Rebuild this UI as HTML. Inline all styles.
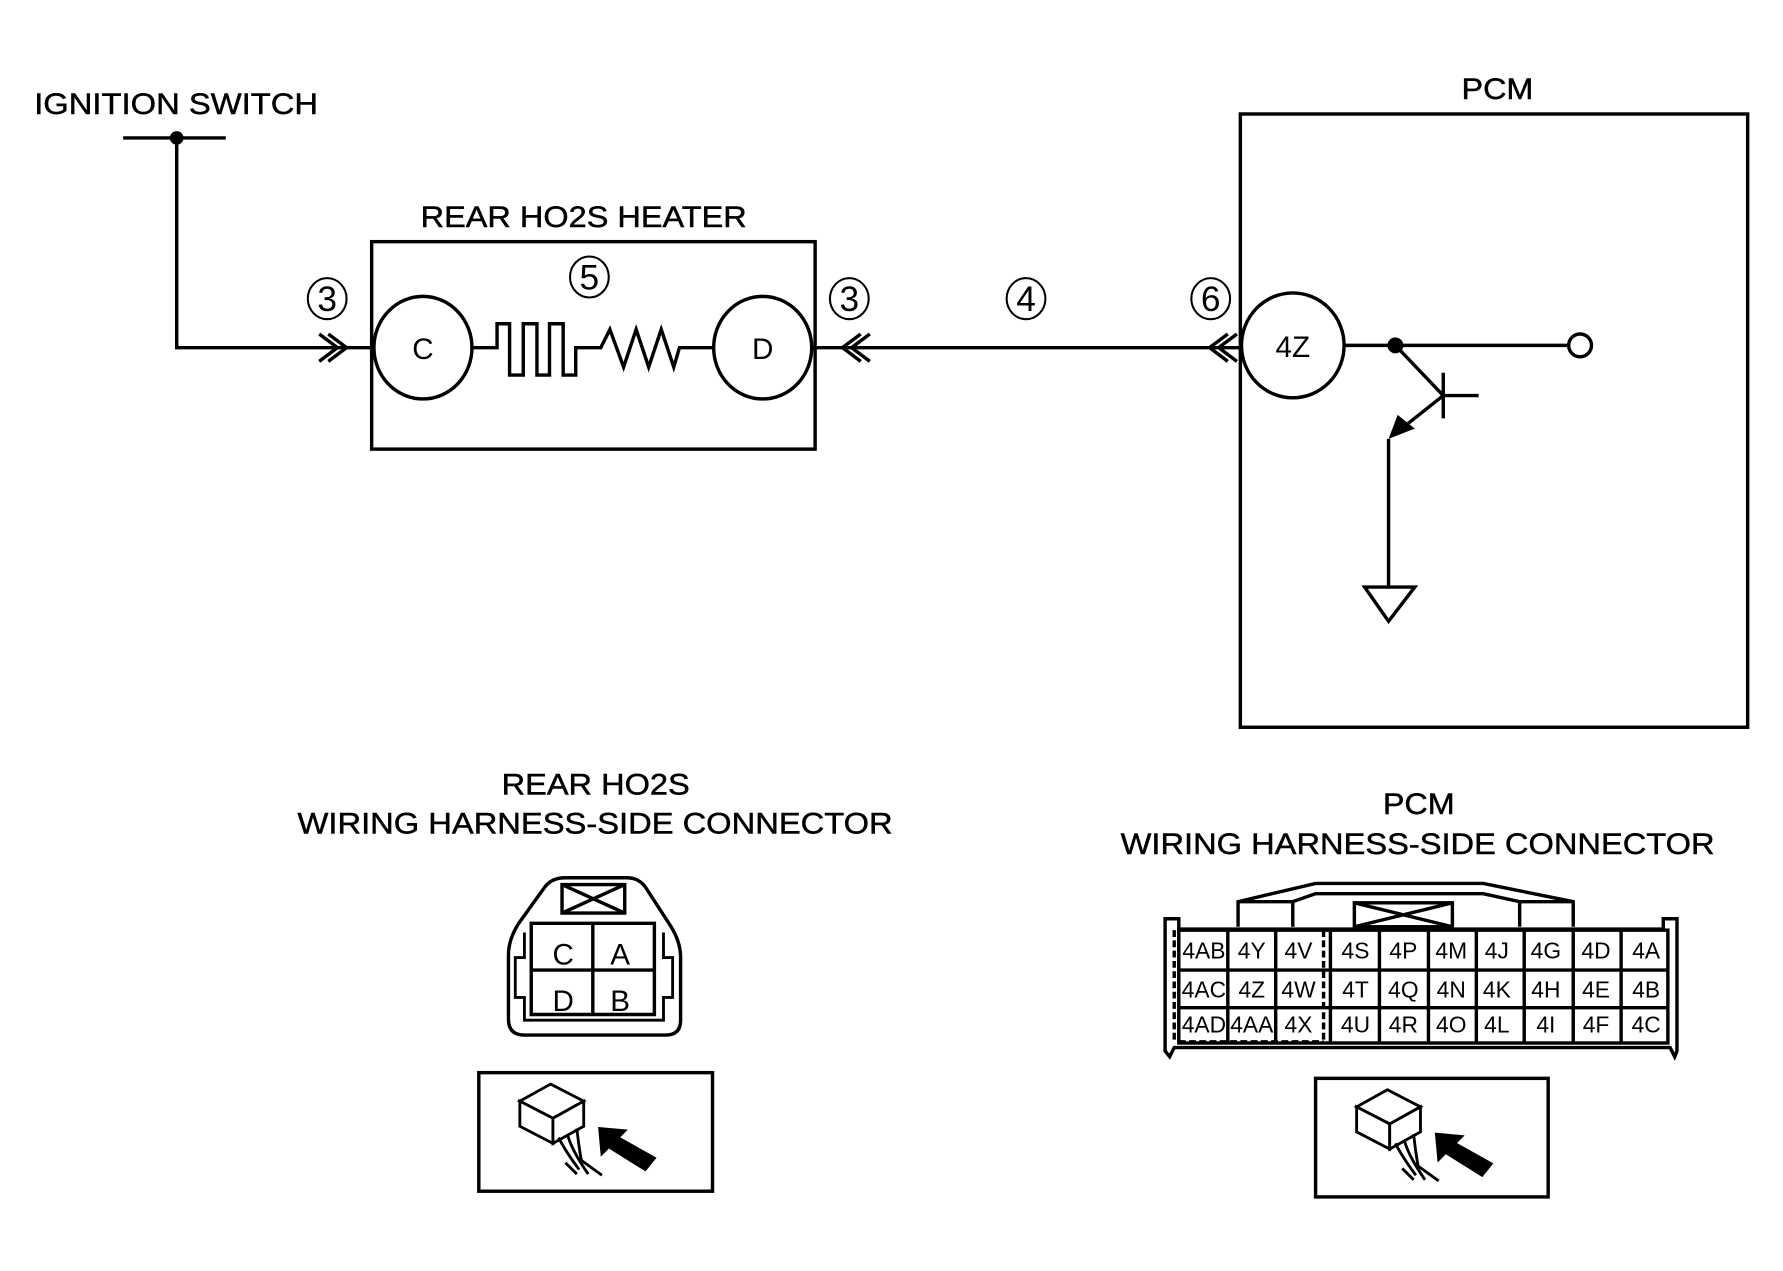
<!DOCTYPE html>
<html><head><meta charset="utf-8"><style>
html,body{margin:0;padding:0;background:#fff;}
svg{display:block;}
text{font-family:"Liberation Sans",Arial,sans-serif;fill:#000;}
</style></head><body>
<svg width="1783" height="1271" viewBox="0 0 1564 1115" preserveAspectRatio="none" xmlns="http://www.w3.org/2000/svg">
<g fill="none" stroke="#000" stroke-width="3" stroke-linejoin="miter">
<line x1="108" y1="121" x2="198" y2="121"/>
<polyline points="155,121 155,305 327,305"/>
<polyline points="280,293 296,305 280,317" />
<polyline points="288,293 304,305 288,317" />
<rect x="326" y="212" width="389" height="182"/>
<ellipse cx="371" cy="305" rx="43" ry="45"/>
<ellipse cx="669" cy="305" rx="43" ry="45"/>
<polyline points="414,305 436,305 436,284 447,284 447,329 459,329 459,284 471,284 471,329 482,329 482,284 494,284 494,329 505,329 505,305 527,305 535,289 547,322 558,289 569,322 580,289 591,322 596,305 626,305"/>
<line x1="712" y1="305" x2="1088" y2="305"/>
<polyline points="763,293 747,305 763,317"/>
<polyline points="755,293 739,305 755,317"/>
<polyline points="1077,293 1061,305 1077,317"/>
<polyline points="1085,293 1069,305 1085,317"/>
<rect x="1088" y="100" width="445" height="538"/>
<ellipse cx="1134" cy="303" rx="45" ry="46"/>
<line x1="1179" y1="303" x2="1376" y2="303"/>
<circle cx="1386" cy="303" r="10"/>
<line x1="1224" y1="303" x2="1266" y2="347"/>
<line x1="1266" y1="327" x2="1266" y2="367"/>
<line x1="1266" y1="347" x2="1297" y2="347"/>
<line x1="1266" y1="347" x2="1232" y2="374"/>
<polyline points="1218,385 1218,515"/>
<polygon points="1197,515 1241,515 1218,545"/>
<path d="M496,770 L550,770 Q560,770 566,778 L588,812 Q597,826 597,840 L597,895 Q597,908 584,908 L460,908 Q446,908 446,894 L446,838 Q446,824 455,810 L478,778 Q484,770 496,770 Z"/>
<path d="M466,810 L574,810 L574,890 L466,890 Z"/>
<path d="M460,818 L460,840 L452,840 L452,875 L460,875 L460,895 L582,895 L582,875 L590,875 L590,840 L582,840 L582,818" stroke-width="2.5"/>
<line x1="520" y1="810" x2="520" y2="890"/>
<line x1="466" y1="851" x2="574" y2="851"/>
<rect x="493" y="776" width="55" height="25"/>
<line x1="493" y1="776" x2="548" y2="801"/>
<line x1="548" y1="776" x2="493" y2="801"/>
<rect x="420" y="941" width="205" height="104"/>
<rect x="1154" y="946" width="204" height="104"/>
<path d="M1022,922 L1022,806 L1034,806 L1034,815 L1459,815 L1459,806 L1471,806 L1471,922 L1469,927 L1465,919 L1030,919 L1026,927 Z"/>
<polyline points="1086,813 1086,791 1154,775 1301,775 1380,791 1380,813"/>
<polyline points="1086,791 1134,791 1154,784 1301,784 1333,791 1380,791"/>
<line x1="1134" y1="791" x2="1134" y2="813"/>
<line x1="1333" y1="791" x2="1333" y2="813"/>
<rect x="1188" y="792" width="86" height="21"/>
<line x1="1188" y1="792" x2="1274" y2="813"/>
<line x1="1274" y1="792" x2="1188" y2="813"/>
<rect x="1034" y="816" width="429" height="99"/>
<line x1="1034" y1="851" x2="1463" y2="851"/>
<line x1="1034" y1="884" x2="1463" y2="884"/>
<line x1="1077" y1="816" x2="1077" y2="915"/>
<line x1="1119" y1="816" x2="1119" y2="915"/>
<line x1="1167" y1="816" x2="1167" y2="915"/>
<line x1="1210" y1="816" x2="1210" y2="915"/>
<line x1="1253" y1="816" x2="1253" y2="915"/>
<line x1="1295" y1="816" x2="1295" y2="915"/>
<line x1="1337" y1="816" x2="1337" y2="915"/>
<line x1="1380" y1="816" x2="1380" y2="915"/>
<line x1="1422" y1="816" x2="1422" y2="915"/>
<line x1="1161" y1="816" x2="1161" y2="915" stroke-dasharray="6,3"/>
<line x1="1030" y1="816" x2="1030" y2="915" stroke-dasharray="6,3"/>
<line x1="1034" y1="914" x2="1161" y2="914" stroke-dasharray="6,3"/>
</g>
<g stroke="#000" stroke-width="2.5" fill="none">
<g transform="translate(456,948)">
<polygon points="0,18 27,3 56,18 29,33" fill="#fff"/>
<polygon points="0,18 29,33 29,55 0,40" fill="#fff"/>
<polygon points="29,33 56,18 56,40 29,55" fill="#fff"/>
<path d="M34,50 Q40,62 52,78 M42,48 Q46,62 60,82 M50,42 Q52,60 54,70 L72,83 M40,72 L50,82"/>
<polygon points="70,42 92,44 86,50 118,68 110,78 78,58 72,64" fill="#000"/>
</g>
<g transform="translate(1190,953)">
<polygon points="0,18 27,3 56,18 29,33" fill="#fff"/>
<polygon points="0,18 29,33 29,55 0,40" fill="#fff"/>
<polygon points="29,33 56,18 56,40 29,55" fill="#fff"/>
<path d="M34,50 Q40,62 52,78 M42,48 Q46,62 60,82 M50,42 Q52,60 54,70 L72,83 M40,72 L50,82"/>
<polygon points="70,42 92,44 86,50 118,68 110,78 78,58 72,64" fill="#000"/>
</g>
</g>
<circle cx="155" cy="121" r="6" fill="#000"/>
<circle cx="1224" cy="303" r="7" fill="#000"/>
<polygon points="1218,385 1226,364 1241,376" fill="#000"/>
<g fill="none" stroke="#000" stroke-width="1.8">
<ellipse cx="287" cy="262" rx="17" ry="18"/>
<ellipse cx="517" cy="243" rx="17" ry="18"/>
<ellipse cx="745" cy="262" rx="17" ry="18"/>
<ellipse cx="900" cy="262" rx="17" ry="18"/>
<ellipse cx="1062" cy="262" rx="17" ry="18"/>
</g>
<g font-size="31" text-anchor="middle">
<text x="287" y="273">3</text>
<text x="517" y="254">5</text>
<text x="745" y="273">3</text>
<text x="900" y="273">4</text>
<text x="1062" y="273">6</text>
</g>
<g font-size="26" stroke="#000" stroke-width="0.4">
<text x="30" y="100" textLength="249" lengthAdjust="spacingAndGlyphs">IGNITION SWITCH</text>
<text x="369" y="199" textLength="286" lengthAdjust="spacingAndGlyphs">REAR HO2S HEATER</text>
<text x="1282" y="87" textLength="63" lengthAdjust="spacingAndGlyphs">PCM</text>
<text x="440" y="697" textLength="165" lengthAdjust="spacingAndGlyphs">REAR HO2S</text>
<text x="261" y="731" textLength="522" lengthAdjust="spacingAndGlyphs">WIRING HARNESS-SIDE CONNECTOR</text>
<text x="1213" y="714" textLength="63" lengthAdjust="spacingAndGlyphs">PCM</text>
<text x="983" y="749" textLength="521" lengthAdjust="spacingAndGlyphs">WIRING HARNESS-SIDE CONNECTOR</text>
</g>
<g font-size="26" text-anchor="middle">
<text x="371" y="315">C</text>
<text x="669" y="315">D</text>
<text x="1134" y="313">4Z</text>
<text x="494" y="846">C</text>
<text x="544" y="846">A</text>
<text x="494" y="887">D</text>
<text x="544" y="887">B</text>
</g>
<g font-size="20" text-anchor="middle">
<text x="1056" y="841">4AB</text><text x="1098" y="841">4Y</text><text x="1139" y="841">4V</text>
<text x="1189" y="841">4S</text><text x="1231" y="841">4P</text><text x="1273" y="841">4M</text><text x="1313" y="841">4J</text><text x="1356" y="841">4G</text><text x="1400" y="841">4D</text><text x="1444" y="841">4A</text>
<text x="1056" y="875">4AC</text><text x="1098" y="875">4Z</text><text x="1139" y="875">4W</text>
<text x="1189" y="875">4T</text><text x="1231" y="875">4Q</text><text x="1273" y="875">4N</text><text x="1313" y="875">4K</text><text x="1356" y="875">4H</text><text x="1400" y="875">4E</text><text x="1444" y="875">4B</text>
<text x="1056" y="906">4AD</text><text x="1098" y="906">4AA</text><text x="1139" y="906">4X</text>
<text x="1189" y="906">4U</text><text x="1231" y="906">4R</text><text x="1273" y="906">4O</text><text x="1313" y="906">4L</text><text x="1356" y="906">4I</text><text x="1400" y="906">4F</text><text x="1444" y="906">4C</text>
</g>
</svg>
</body></html>
